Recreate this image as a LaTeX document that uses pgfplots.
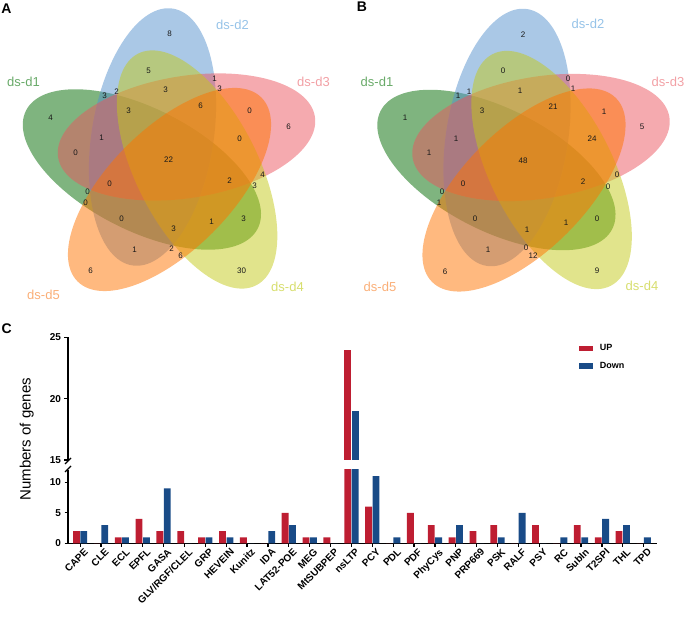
\documentclass[border=0pt]{standalone}
\usepackage{fontspec}
\setmainfont{Liberation Sans}
\usepackage{pgfplots}
\usepackage{pgfplotstable}
\pgfplotsset{compat=1.18}

% venn fills (drawn at 50% opacity)
\definecolor{vGreen}{RGB}{0,105,0}
\definecolor{vBlue}{RGB}{85,145,205}
\definecolor{vPink}{RGB}{235,85,95}
\definecolor{vYellow}{RGB}{195,201,25}
\definecolor{vOrange}{RGB}{255,115,0}
% set labels
\definecolor{lGreen}{RGB}{105,170,105}
\definecolor{lBlue}{RGB}{150,195,232}
\definecolor{lPink}{RGB}{242,160,165}
\definecolor{lYellow}{RGB}{215,222,110}
\definecolor{lOrange}{RGB}{250,175,120}
% bars
\definecolor{cUp}{RGB}{190,30,50}
\definecolor{cDown}{RGB}{25,75,135}

\pgfplotstableread{
x up down
0 2 2
1 0 3
2 1 1
3 4 1
4 2 9
5 2 0
6 1 1
7 2 1
8 1 0
9 0 2
10 5 3
11 1 1
12 1 0
13 24 19
14 6 11
15 0 1
16 5 0
17 3 1
18 1 3
19 2 0
20 3 1
21 0 5
22 3 0
23 0 1
24 3 1
25 1 4
26 2 3
27 0 1
}\genes

\tikzset{
  num/.style={font=\fontsize{8}{8}\selectfont, text=black!90, inner sep=0pt},
  setlab/.style={font=\fontsize{13}{13}\selectfont, inner sep=0pt},
  panel/.style={font=\bfseries\fontsize{14}{14}\selectfont, inner sep=0pt},
}
\pgfplotsset{
  venn/.style={hide axis, scale only axis, clip=false, anchor=south west},
  barax/.style={
    scale only axis, width=589pt, anchor=south west,
    xmin=-0.58, xmax=27.64, clip mode=individual,
    axis line style={line width=1.4pt},
    ybar=0.6pt, bar width=6.8pt,
    tick align=outside, major tick length=3.5pt,
    tick style={line width=1.2pt, black},
    yticklabel style={font=\bfseries\fontsize{10}{10}\selectfont},
    /pgf/number format/assume math mode=true,
  },
}
\newcommand{\vennsets}{%
  \fill[vGreen, fill opacity=0.5]  (axis cs:-27.6,-9.0) ellipse [x radius=130pt, y radius=61pt, rotate=153];
  \fill[vBlue, fill opacity=0.5]   (axis cs:-17.0,23.5) ellipse [x radius=130pt, y radius=61pt, rotate=81];
  \fill[vPink, fill opacity=0.5]   (axis cs:17.0,23.5)  ellipse [x radius=130pt, y radius=61pt, rotate=9];
  \fill[vYellow, fill opacity=0.5] (axis cs:27.6,-9.0)  ellipse [x radius=130pt, y radius=61pt, rotate=117];
  \fill[vOrange, fill opacity=0.5] (axis cs:0,-29)      ellipse [x radius=130pt, y radius=61pt, rotate=45];
}

\begin{document}
\begin{tikzpicture}
\path[use as bounding box] (0pt,0pt) rectangle (685pt,617pt);

% ===== A =====
\begin{axis}[venn, at={(0pt,317pt)}, width=340pt, height=300pt,
  xmin=-169.5, xmax=170.5, ymin=-139.5, ymax=160.5]
\vennsets
\node[num] at (axis cs:0,127) {8};
\node[num] at (axis cs:-21,90) {5};
\node[num] at (axis cs:45,82) {1};
\node[num] at (axis cs:50,72) {3};
\node[num] at (axis cs:-4,71) {3};
\node[num] at (axis cs:-65,65) {3};
\node[num] at (axis cs:-53,69) {2};
\node[num] at (axis cs:-41,50) {3};
\node[num] at (axis cs:31,55) {6};
\node[num] at (axis cs:80,50) {0};
\node[num] at (axis cs:119,34) {6};
\node[num] at (axis cs:-119,43) {4};
\node[num] at (axis cs:-68,23) {1};
\node[num] at (axis cs:70,22) {0};
\node[num] at (axis cs:-94,8) {0};
\node[num] at (axis cs:-1,1) {22};
\node[num] at (axis cs:93,-14) {4};
\node[num] at (axis cs:60,-20) {2};
\node[num] at (axis cs:85,-25) {3};
\node[num] at (axis cs:-60,-23) {0};
\node[num] at (axis cs:-82,-31) {0};
\node[num] at (axis cs:-84,-42) {0};
\node[num] at (axis cs:-48,-58) {0};
\node[num] at (axis cs:42,-61) {1};
\node[num] at (axis cs:74,-58) {3};
\node[num] at (axis cs:4,-68) {3};
\node[num] at (axis cs:-35,-89) {1};
\node[num] at (axis cs:2,-88) {2};
\node[num] at (axis cs:11,-95) {6};
\node[num] at (axis cs:-79,-110) {6};
\node[num] at (axis cs:72,-110) {30};
\node[setlab, lGreen]  at (axis cs:-146,79) {ds-d1};
\node[setlab, lBlue]   at (axis cs:63,136) {ds-d2};
\node[setlab, lPink]   at (axis cs:144,79) {ds-d3};
\node[setlab, lYellow] at (axis cs:118,-126) {ds-d4};
\node[setlab, lOrange] at (axis cs:-126,-134) {ds-d5};
\node[panel] at (axis cs:-163,152) {A};
\end{axis}

% ===== B =====
\begin{axis}[venn, at={(340pt,317pt)}, width=345pt, height=300pt,
  xmin=-184, xmax=161, ymin=-139, ymax=161]
\vennsets
\node[num] at (axis cs:-1,126) {2};
\node[num] at (axis cs:-21,90) {0};
\node[num] at (axis cs:44,82) {0};
\node[num] at (axis cs:49,72) {1};
\node[num] at (axis cs:-4,70) {1};
\node[num] at (axis cs:-66,65) {1};
\node[num] at (axis cs:-55,69) {1};
\node[num] at (axis cs:-42,50) {3};
\node[num] at (axis cs:29,54) {21};
\node[num] at (axis cs:80,49) {1};
\node[num] at (axis cs:118,34) {5};
\node[num] at (axis cs:-119,43) {1};
\node[num] at (axis cs:-68,22) {1};
\node[num] at (axis cs:68,22) {24};
\node[num] at (axis cs:-95,8) {1};
\node[num] at (axis cs:-1,0) {48};
\node[num] at (axis cs:93,-14) {0};
\node[num] at (axis cs:59,-21) {2};
\node[num] at (axis cs:84,-26) {0};
\node[num] at (axis cs:-61,-23) {0};
\node[num] at (axis cs:-82,-31) {0};
\node[num] at (axis cs:-85,-42) {1};
\node[num] at (axis cs:-49,-58) {0};
\node[num] at (axis cs:42,-62) {1};
\node[num] at (axis cs:73,-58) {0};
\node[num] at (axis cs:3,-69) {1};
\node[num] at (axis cs:-36,-89) {1};
\node[num] at (axis cs:2,-87) {0};
\node[num] at (axis cs:9,-95) {12};
\node[num] at (axis cs:-79,-111) {6};
\node[num] at (axis cs:73,-110) {9};
\node[setlab, lGreen]  at (axis cs:-147,79) {ds-d1};
\node[setlab, lBlue]   at (axis cs:64,137) {ds-d2};
\node[setlab, lPink]   at (axis cs:144,79) {ds-d3};
\node[setlab, lYellow] at (axis cs:118,-125) {ds-d4};
\node[setlab, lOrange] at (axis cs:-144,-126) {ds-d5};
\node[panel] at (axis cs:-162,154) {B};
\end{axis}

% ===== C: lower segment (0-12) =====
\begin{axis}[barax, at={(68pt,73.5pt)}, height=73.5pt,
  ymin=0, ymax=12, ytick={0,5,10},
  axis x line*=bottom, axis y line*=left,
  xtick={0,...,27},
  xticklabels={CAPE,CLE,ECL,EPFL,GASA,GLV/RGF/CLEL,GRP,HEVEIN,Kunitz,IDA,LAT52-POE,MEG,MtSUBPEP,nsLTP,PCY,PDL,PDF,PhyCys,PNP,PRP669,PSK,RALF,PSY,RC,SubIn,T2SPI,THL,TPD},
  xticklabel style={rotate=45, anchor=north east, inner sep=1pt, xshift=3pt, yshift=-2pt,
    font=\bfseries\fontsize{10}{10}\selectfont},
  ylabel={Numbers of genes},
  ylabel style={at={(rel axis cs:-0.07,1.42)}, anchor=center, font=\fontsize{15}{15}\selectfont},
]
\addplot[fill=cUp, draw=none] table[x=x, y=up] {\genes};
\addplot[fill=cDown, draw=none] table[x=x, y=down] {\genes};
\draw[line width=1.2pt] ([xshift=-3pt,yshift=-2pt]rel axis cs:0,1) -- ([xshift=3pt,yshift=4pt]rel axis cs:0,1);
\end{axis}

% ===== C: upper segment (15-25) =====
\begin{axis}[barax, at={(68pt,157pt)}, height=122.7pt,
  ymin=15, ymax=25, ytick={15,20,25},
  restrict y to domain=15:30,
  axis x line=none, axis y line*=left,
  legend cell align=left,
  legend style={at={(rel axis cs:0.862,0.975)}, anchor=north west, draw=none, fill=none,
    font=\bfseries\fontsize{9}{9}\selectfont, row sep=6pt,
    /tikz/every odd column/.style={column sep=5pt}},
  legend image code/.code={\fill[#1] (0pt,-2.6pt) rectangle (14pt,2.6pt);},
]
\addplot[fill=cUp, draw=none] table[x=x, y=up] {\genes};
\addlegendentry{UP}
\addplot[fill=cDown, draw=none] table[x=x, y=down] {\genes};
\addlegendentry{Down}
\draw[line width=1.2pt] ([xshift=-3pt,yshift=-4pt]rel axis cs:0,0) -- ([xshift=3pt,yshift=2pt]rel axis cs:0,0);
\node[panel] at (rel axis cs:-0.104,1.068) {C};
\end{axis}
\end{tikzpicture}
\end{document}
